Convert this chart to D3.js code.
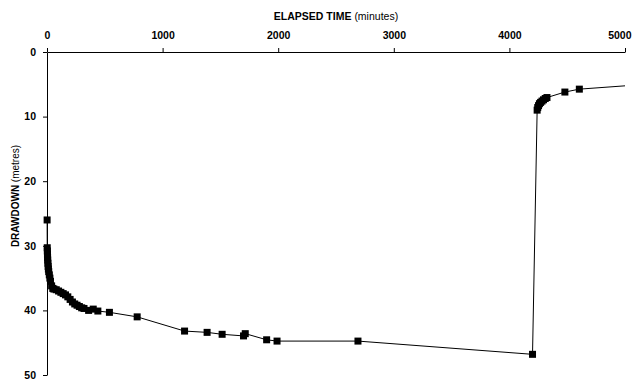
<!DOCTYPE html>
<html>
<head>
<meta charset="utf-8">
<script src="https://cdn.jsdelivr.net/npm/d3@7"></script>
<style>
	body { margin: 0; background: #fff; }
	text { font-family: "Liberation Sans", Arial, sans-serif; }
</style>
</head>
<body>
<svg></svg>
<script>
// elapsed time (minutes) and drawdown (metres), pumping then recovery
var times = [1, 2, 3, 4, 5, 6, 8, 10, 12, 15, 20, 25, 30, 40, 50, 60, 80, 100, 120, 140, 160, 180, 200, 220, 240, 260, 280, 300, 320, 360, 400, 440, 540, 780,
	1190, 1385, 1515, 1700, 1715, 1900, 1990, 2690, 4200,
	4240, 4245, 4252, 4260, 4270, 4282, 4295, 4310, 4325, 4480, 4605, 5800]
var drawdown = [26.0, 30.3, 30.8, 31.3, 31.8, 32.2, 32.7, 33.2, 33.6, 34.0, 34.5, 35.0, 35.5, 36.2, 36.6, 36.7, 36.8, 37.0, 37.2, 37.4, 37.6, 37.9, 38.3, 38.7, 39.0, 39.2, 39.4, 39.6, 39.7, 40.0, 39.8, 40.1, 40.3, 41.0,
	43.2, 43.4, 43.7, 43.95, 43.6, 44.55, 44.75, 44.75, 46.8,
	9.0, 8.6, 8.3, 8.0, 7.8, 7.6, 7.4, 7.2, 7.05, 6.2, 5.75, 4.2]

var xTicks = [0, 1000, 2000, 3000, 4000, 5000]
var yTicks = [0, 10, 20, 30, 40, 50]

function main() {
	var W = 634, H = 381
	var margin = { top: 52, right: 9, bottom: 6, left: 47 },
		width = W - margin.left - margin.right,
		height = H - margin.top - margin.bottom;

	var svg = d3.select("svg")
		.attr("width", W)
		.attr("height", H)

	var data = times.map(function (t, i) {
		return { x: t, y: drawdown[i] };
	});

	var xScale = d3.scaleLinear().domain([0, 5000]).range([0, width]);
	var yScale = d3.scaleLinear().domain([0, 50]).range([0, height]);

	var g = svg.append("g")
		.attr("transform", "translate(" + margin.left + "," + margin.top + ")");

	g.append("clipPath").attr("id", "plotclip")
		.append("rect")
		.attr("x", -5).attr("y", -5)
		.attr("width", width + 5).attr("height", height + 10);

	// axis-x (top)
	var xAxis = g.append("g")
		.call(d3.axisTop(xScale).tickValues(xTicks).tickFormat(d3.format("d"))
			.tickSize(4).tickSizeOuter(0).tickPadding(9));
	xAxis.selectAll("text")
		.style("font-size", "10.5px").style("font-weight", "bold").attr("fill", "#000");
	// last label pulled inside the frame
	xAxis.selectAll(".tick text")
		.filter(function (d) { return d == 5000; })
		.attr("text-anchor", "end")
		.attr("x", W - 3 - margin.left - xScale(5000));

	// axis-y
	var yAxis = g.append("g")
		.call(d3.axisLeft(yScale).tickValues(yTicks).tickSize(4).tickSizeOuter(0).tickPadding(7));
	yAxis.selectAll("text")
		.style("font-size", "10.5px").style("font-weight", "bold").attr("fill", "#000");

	g.selectAll(".domain, .tick line").attr("stroke", "#000");

	// titles
	var xt = svg.append("text")
		.attr("x", margin.left + width / 2)
		.attr("y", 20)
		.attr("text-anchor", "middle")
		.style("font-size", "10.5px");
	xt.append("tspan").style("font-weight", "bold").text("ELAPSED TIME ");
	xt.append("tspan").text("(minutes)");

	var yt = svg.append("text")
		.attr("transform", "translate(19,196) rotate(-90)")
		.attr("text-anchor", "middle")
		.style("font-size", "10px");
	yt.append("tspan").style("font-weight", "bold").text("DRAWDOWN ");
	yt.append("tspan").text("(metres)");

	var valueline = d3.line()
		.x(function (d) { return xScale(d.x); })
		.y(function (d) { return yScale(d.y); });

	var plot = g.append("g").attr("clip-path", "url(#plotclip)");

	plot.append("path")
		.datum(data)
		.attr("fill", "none")
		.attr("stroke", "#000")
		.attr("stroke-width", 1)
		.attr("d", valueline);

	plot.selectAll(".pt")
		.data(data)
		.enter().append("rect")
		.attr("class", "pt")
		.attr("x", function (d) { return xScale(d.x) - 3.5; })
		.attr("y", function (d) { return yScale(d.y) - 3.5; })
		.attr("width", 7)
		.attr("height", 7)
		.attr("fill", "#000");
}
main()
</script>
</body>
</html>
